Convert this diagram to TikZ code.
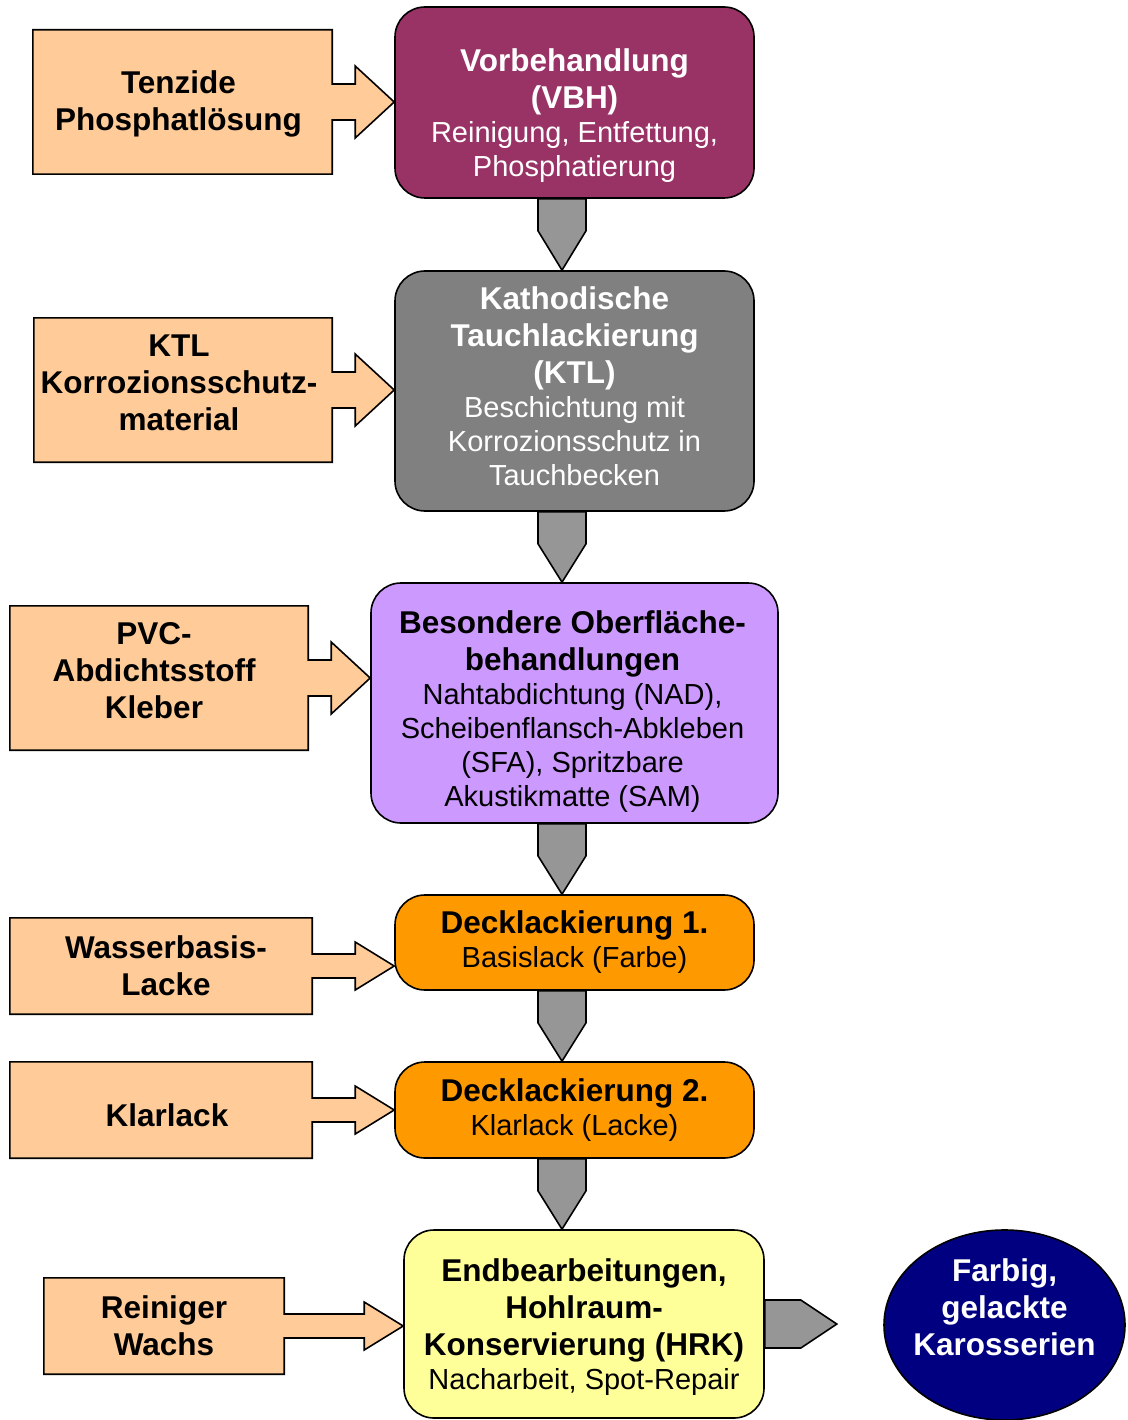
\documentclass[tikz,border=0pt]{standalone}
\usepackage{fontspec}
\setmainfont{Liberation Sans}
\usepackage{xcolor}
\usepackage{tikz}
\usetikzlibrary{calc}
\usetikzlibrary{shapes.geometric,backgrounds}

\definecolor{peach}{HTML}{FFCC99}
\definecolor{plum}{HTML}{993366}
\definecolor{ktlgray}{HTML}{808080}
\definecolor{lilac}{HTML}{CC99FF}
\definecolor{amber}{HTML}{FF9900}
\definecolor{paleyellow}{HTML}{FFFF99}
\definecolor{navyblue}{HTML}{000080}
\definecolor{arrgray}{HTML}{969696}

\newcommand{\hd}[1]{{\fontsize{31.5}{37}\selectfont\bfseries #1}}
\newcommand{\bd}{\fontsize{29}{34}\selectfont}

\tikzset{
  proc/.style={draw, line width=1.6pt, rounded corners=30pt, inner sep=0pt},
  txt/.style={align=center, inner sep=0pt, font=\bd},
  inbox/.style={inner sep=0pt},
  intxt/.style={align=center, inner sep=0pt, font=\fontsize{31.5}{37}\selectfont\bfseries},
  inshape/.style={draw, line width=1.6pt, fill=peach},
  flow/.style={draw, line width=1.6pt, fill=arrgray, line join=miter},
}

\begin{document}
\begin{tikzpicture}[x=1pt, y=-1pt]
    \useasboundingbox (0,0) rectangle (1127,1420);

    %PROZESS
    \node[proc, fill=plum, minimum width=359, minimum height=191] (vbh) at (574.5,102.5) {};
    \node[txt, text=white] (vbhtext) at ($(vbh)+(0,13)$)
        {\hd{Vorbehandlung}\\[3pt]\hd{(VBH)}\\Reinigung, Entfettung,\\Phosphatierung};

    \node[proc, fill=ktlgray, minimum width=359, minimum height=240] (ktl) at (574.5,391) {};
    \node[txt, text=white] (ktltext) at ($(ktl)+(0,-5)$)
        {\hd{Kathodische}\\[3pt]\hd{Tauchlackierung}\\[3pt]\hd{(KTL)}\\Beschichtung mit\\Korrozionsschutz in\\Tauchbecken};

    \node[proc, fill=lilac, minimum width=407, minimum height=240] (bes) at (574.5,703) {};
    \node[txt] (bestext) at ($(bes)+(-2,9)$)
        {\hd{Besondere Oberfläche-}\\[3pt]\hd{behandlungen}\\Nahtabdichtung (NAD),\\Scheibenflansch-Abkleben\\(SFA), Spritzbare\\Akustikmatte (SAM)};

    \node[proc, fill=amber, minimum width=359, minimum height=95] (dl1) at (574.5,942.5) {};
    \node[txt] (dl1text) at (dl1) {\hd{Decklackierung 1.}\\Basislack (Farbe)};

    \node[proc, fill=amber, minimum width=359, minimum height=96] (dl2) at (574.5,1110) {};
    \node[txt] (dl2text) at (dl2) {\hd{Decklackierung 2.}\\Klarlack (Lacke)};

    \node[proc, fill=paleyellow, minimum width=360, minimum height=188] (end) at (584,1324) {};
    \node[txt] (endtext) at ($(end)+(0,3)$)
        {\hd{Endbearbeitungen,}\\[3pt]\hd{Hohlraum-}\\[3pt]\hd{Konservierung (HRK)}\\Nacharbeit, Spot-Repair};

    \node[ellipse, draw, line width=1.6pt, fill=navyblue, inner sep=0pt,
        minimum width=241, minimum height=190] (kar) at (1004.5,1325) {};
    \node[intxt, text=white] (kartext) at ($(kar)+(0,-18)$) {Farbig,\\gelackte\\Karosserien};

    %EINGANG
    \node[inbox, minimum width=299, minimum height=144] (in1) at (182.5,102) {};
    \node[intxt] (in1text) at ($(in1)+(-4,2)$) {Tenzide\\Phosphatlösung};
    \node[inbox, minimum width=298, minimum height=144] (in2) at (183,390) {};
    \node[intxt] (in2text) at ($(in2)+(-4,-7)$) {KTL\\Korrozionsschutz-\\material};
    \node[inbox, minimum width=298, minimum height=144] (in3) at (159,678) {};
    \node[intxt] (in3text) at ($(in3)+(-5,-7)$) {PVC-\\Abdichtsstoff\\Kleber};
    \node[inbox, minimum width=302, minimum height=96] (in4) at (161,966) {};
    \node[intxt] (in4text) at ($(in4)+(5,0)$) {Wasserbasis-\\Lacke};
    \node[inbox, minimum width=302, minimum height=96] (in5) at (161,1110) {};
    \node[intxt] (in5text) at ($(in5)+(6,5)$) {Klarlack};
    \node[inbox, minimum width=240, minimum height=96] (in6) at (164,1326) {};
    \node[intxt] (in6text) at (in6) {Reiniger\\Wachs};

    \begin{scope}[on background layer]
    \foreach \n/\t/\s in {in1/vbh/18, in2/ktl/18, in3/bes/18, in4/dl1/12, in5/dl2/12, in6/end/12}
        \filldraw[inshape] (\n.north west) -- (\n.north east) -- ($(\n.east)+(0,-\s)$)
            -- ($(\n.east -| \t.west)+(-39,-\s)$) -- ($(\n.east -| \t.west)+(-39,-2*\s)$)
            -- (\n.east -| \t.west)
            -- ($(\n.east -| \t.west)+(-39,2*\s)$) -- ($(\n.east -| \t.west)+(-39,\s)$)
            -- ($(\n.east)+(0,\s)$) -- (\n.south east) -- (\n.south west) -- cycle;
    \end{scope}

    %PFEILE
    \coordinate (ax) at (562,0);
    \foreach \a/\b in {vbh/ktl, ktl/bes, bes/dl1, dl1/dl2, dl2/end}
        \filldraw[flow] ($(\a.south -| ax)+(-24,0)$) -- ++(0,32) -- (\b.north -| ax)
            -- ($(\a.south -| ax)+(24,32)$) -- ++(0,-32) -- cycle;

    \filldraw[flow] ($(end.east)+(0,-24)$) -- ++(36,0) -- ++(36,24) -- ++(-36,24) -- ++(-36,0) -- cycle;

\end{tikzpicture}
\end{document}
